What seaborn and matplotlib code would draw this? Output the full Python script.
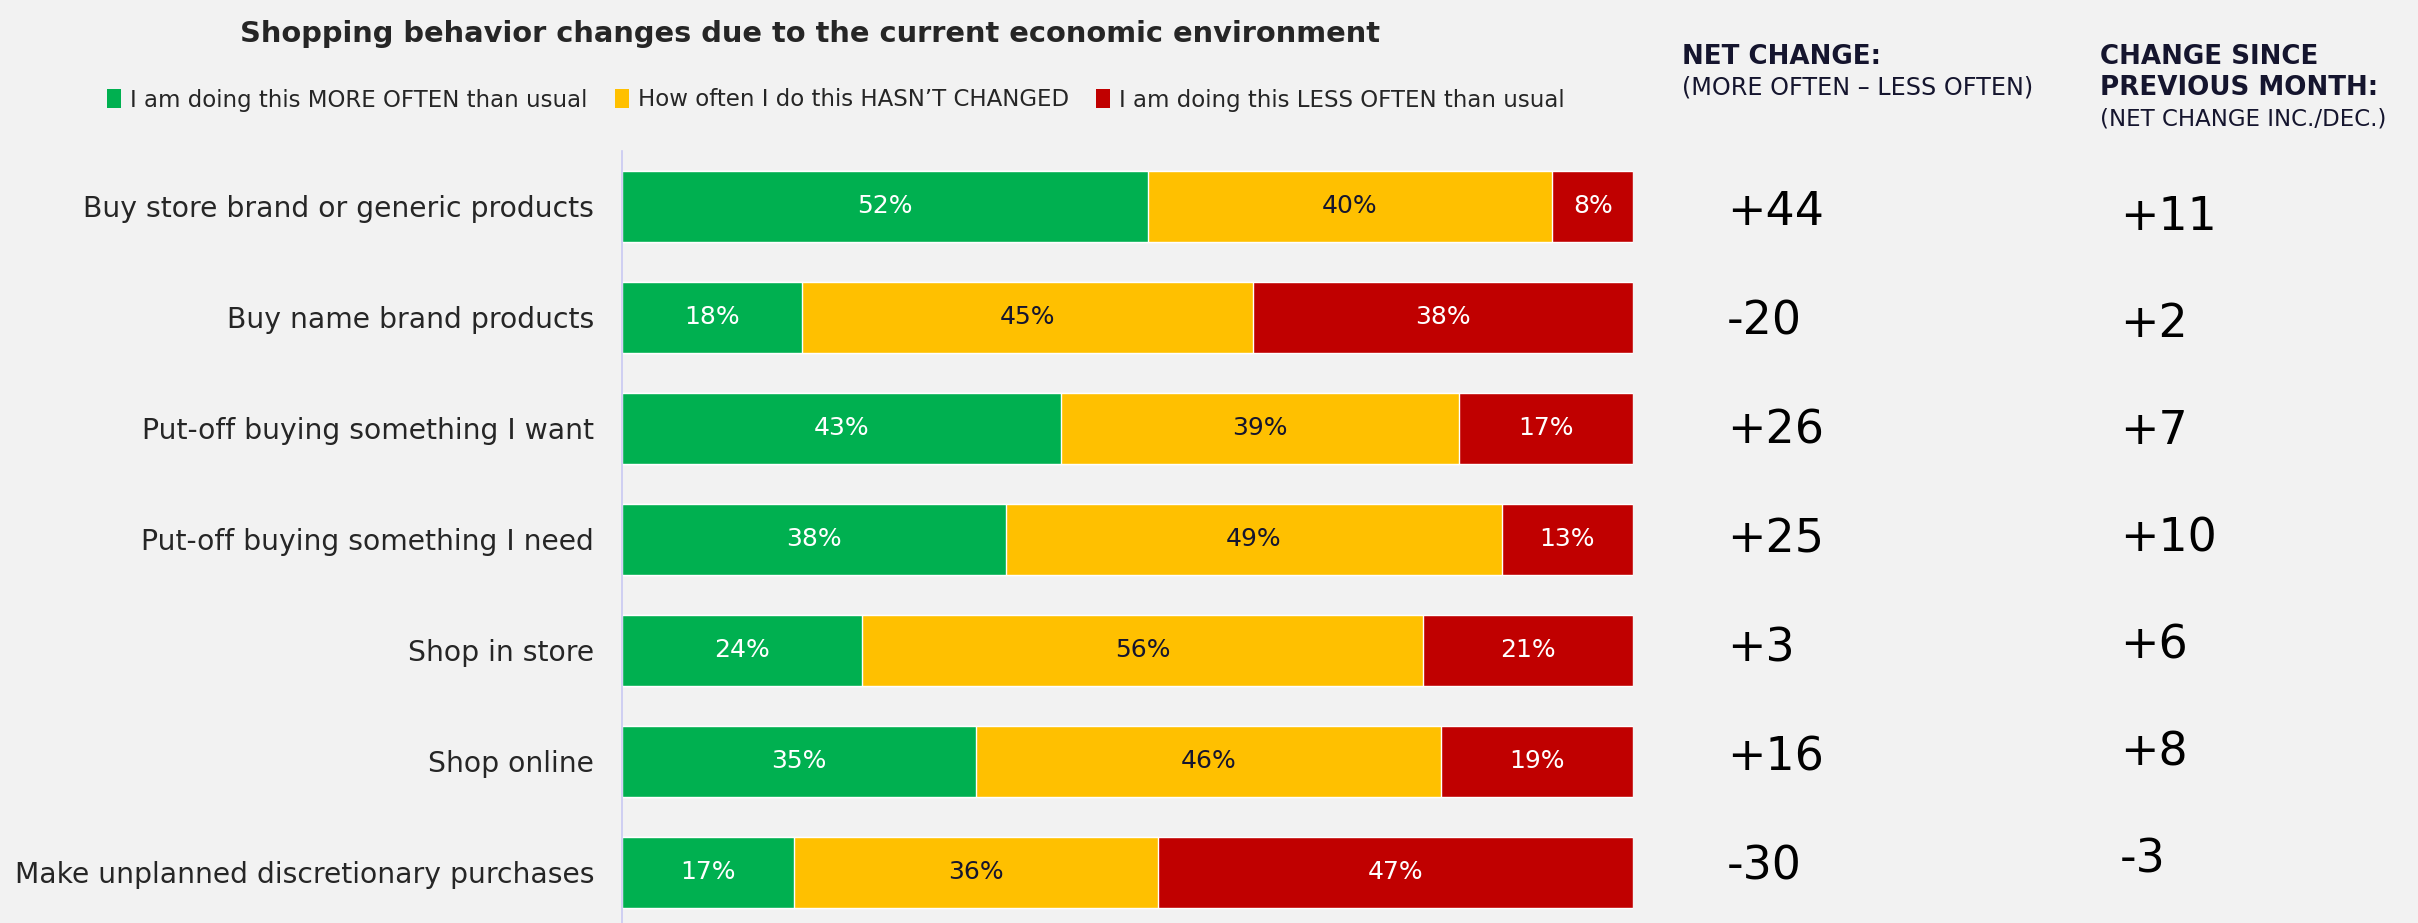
import numpy as np
import pandas as pd
import matplotlib
matplotlib.use("Agg")
import matplotlib.pyplot as plt
import seaborn as sns
from matplotlib.patches import Patch

categories = ["Buy store brand or generic products", "Buy name brand products",
              "Put-off buying something I want", "Put-off buying something I need",
              "Shop in store", "Shop online", "Make unplanned discretionary purchases"]
more_often = [52, 18, 43, 38, 24, 35, 17]
no_change = [40, 45, 39, 49, 56, 46, 36]
less_often = [8, 38, 17, 13, 21, 19, 47]
net_change = ["+44", "-20", "+26", "+25", "+3", "+16", "-30"]
change_prev = ["+11", "+2", "+7", "+10", "+6", "+8", "-3"]
series_names = ["I am doing this MORE OFTEN than usual",
                "How often I do this HASN\u2019T CHANGED",
                "I am doing this LESS OFTEN than usual"]

GREEN, YELLOW, RED = "#00B050", "#FFC000", "#C00000"
BG = "#F2F2F2"
NAVY = "#15152E"
DARK = "#262626"

sns.set_theme(style="white")
plt.rcParams["font.family"] = ["DejaVu Sans"]

df = pd.DataFrame({"cat": categories, "more": more_often, "same": no_change, "less": less_often})
tot = df[["more", "same", "less"]].sum(axis=1)
df["p_more"] = df["more"] / tot * 100
df["p_same"] = df["same"] / tot * 100
df["p_less"] = df["less"] / tot * 100
df["c1"] = df["p_more"]
df["c2"] = df["p_more"] + df["p_same"]
df["c3"] = df["c2"] + df["p_less"]

fig = plt.figure(figsize=(24.18, 9.23), dpi=100, facecolor=BG)
ax = fig.add_axes([0.2572, 0.0, 0.4182, 0.8365])
ax.set_facecolor(BG)

W = 0.64
sns.barplot(data=df, y="cat", x="c3", color=RED, width=W, ax=ax, saturation=1, order=categories)
sns.barplot(data=df, y="cat", x="c2", color=YELLOW, width=W, ax=ax, saturation=1, order=categories)
sns.barplot(data=df, y="cat", x="c1", color=GREEN, width=W, ax=ax, saturation=1, order=categories)

for i, r in df.iterrows():
    ax.text(r["p_more"] / 2, i, f"{r['more']}%", ha="center", va="center", color="white", fontsize=18)
    ax.text(r["c1"] + r["p_same"] / 2, i, f"{r['same']}%", ha="center", va="center", color=NAVY, fontsize=18)
    ax.text(r["c2"] + r["p_less"] / 2, i, f"{r['less']}%", ha="center", va="center", color="white", fontsize=18)

ax.set_xlim(0, 100)
ax.set_ylim(6.455, -0.5)
ax.set_xlabel("")
ax.set_ylabel("")
ax.set_xticks([])
ax.tick_params(axis="y", length=0, pad=20, labelsize=20.3, labelcolor=DARK)
for s in ["top", "right", "bottom"]:
    ax.spines[s].set_visible(False)
ax.spines["left"].set_color("#C9C9F2")
ax.spines["left"].set_linewidth(1.2)

# right-hand columns
ytr = ax.get_yaxis_transform()
for i in range(len(categories)):
    ax.text(1.0 + (1727 - 1633) / 1011, 0.055 + i * 0.983, net_change[i], transform=ytr,
            ha="left", va="center", fontsize=33, color="black")
    ax.text(1.0 + (2120 - 1633) / 1011, 0.10 + i * 0.965, change_prev[i], transform=ytr,
            ha="left", va="center", fontsize=33, color="black")

fig.text(1682 / 2418, 1 - 57 / 923, "NET CHANGE:", ha="left", va="center", fontsize=18.8, color=NAVY, fontweight="bold")
fig.text(1682 / 2418, 1 - 88 / 923, "(MORE OFTEN \u2013 LESS OFTEN)", ha="left", va="center", fontsize=17.2, color=NAVY)
fig.text(2100 / 2418, 1 - 57 / 923, "CHANGE SINCE", ha="left", va="center", fontsize=18.8, color=NAVY, fontweight="bold")
fig.text(2100 / 2418, 1 - 88 / 923, "PREVIOUS MONTH:", ha="left", va="center", fontsize=18.8, color=NAVY, fontweight="bold")
fig.text(2100 / 2418, 1 - 119 / 923, "(NET CHANGE INC./DEC.)", ha="left", va="center", fontsize=16.5, color=NAVY)

fig.text(810 / 2418, 1 - 34 / 923, "Shopping behavior changes due to the current economic environment",
         ha="center", va="center", fontsize=20.8, fontweight="bold", color=DARK)

handles = [Patch(facecolor=c, edgecolor="none") for c in [GREEN, YELLOW, RED]]
leg = fig.legend(handles, series_names, loc="center", bbox_to_anchor=(836 / 2418, 1 - 100 / 923), ncol=3,
                 frameon=False, fontsize=16.5, handlelength=0.6, handleheight=0.9, handletextpad=0.4,
                 columnspacing=1.2, labelcolor=DARK)

fig.savefig("out.png", dpi=100, facecolor=BG)
